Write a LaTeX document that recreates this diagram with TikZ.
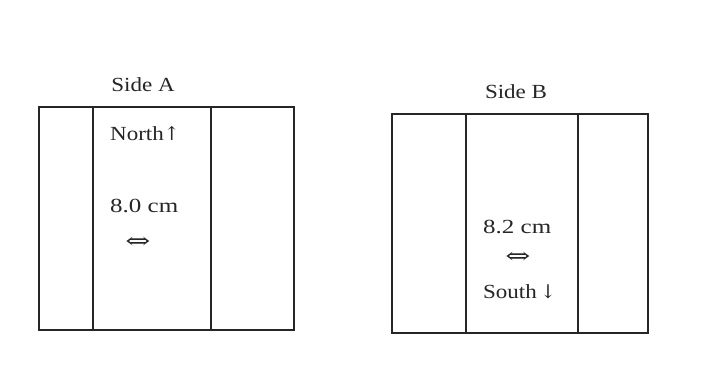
\documentclass[tikz,border=0pt]{standalone}
\usepackage{fontspec}
\setmainfont{Liberation Serif}
\newfontfamily\arrowfont{DejaVu Serif}
\begin{document}
\begin{tikzpicture}[x=1pt,y=-1pt,
  panel/.style={line width=1.6pt,draw=black!85},
  lbl/.style={inner sep=0pt,font=\fontsize{20}{22}\selectfont,text=black!85},
  dbl/.style={inner sep=0pt,font=\arrowfont\fontsize{24}{26}\selectfont,text=black!85}]
\useasboundingbox[fill=white] (0,0) rectangle (703,389);
% Side A
\draw[panel] (39,107) rectangle (294,330);
\draw[panel] (93,107) -- (93,330);
\draw[panel] (211,107) -- (211,330);
% Side B
\draw[panel] (392,114) rectangle (648,333);
\draw[panel] (466,114) -- (466,333);
\draw[panel] (578,114) -- (578,333);
% texts
\node[lbl] (sa) at (143,85) {\scalebox{1.15}[1]{Side A}};
\node[lbl,anchor=west] (north) at (110,134) {\scalebox{1.15}[1]{North}{\arrowfont\fontsize{19}{21}\selectfont ↑}};
\node[lbl,anchor=west] (la) at (110,206) {\scalebox{1.25}[1]{8.0 cm}};
\node[dbl] (aa) at (138,243) {\scalebox{1.25}[0.9]{⇔}};
\node[lbl] (sb) at (516,92) {\scalebox{1.15}[1]{Side B}};
\node[lbl,anchor=west] (lb) at (483,227) {\scalebox{1.25}[1]{8.2 cm}};
\node[dbl] (ab) at (518,258) {\scalebox{1.25}[0.9]{⇔}};
\node[lbl,anchor=west] (south) at (483,292) {\scalebox{1.15}[1]{South}\,{\arrowfont\fontsize{19}{21}\selectfont ↓}};
\end{tikzpicture}
\end{document}
